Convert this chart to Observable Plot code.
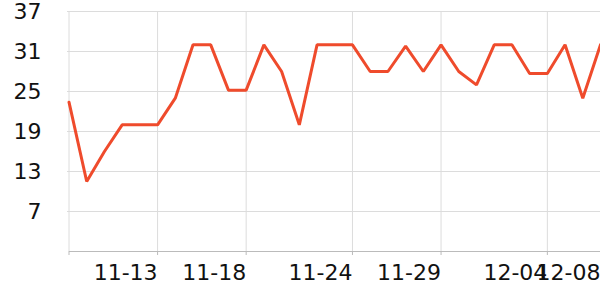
<!DOCTYPE html>
<html>
<head>
<meta charset="utf-8">
<script src="https://cdn.jsdelivr.net/npm/d3@7"></script>
<script src="https://cdn.jsdelivr.net/npm/@observablehq/plot@0.6"></script>
<style>
  html, body { margin: 0; padding: 0; background: #fff; }
</style>
</head>
<body>
<div id="chart"></div>
<script>
const dates = ["11-08","11-09","11-10","11-11","11-12","11-13","11-14","11-15","11-16","11-17",
  "11-18","11-19","11-20","11-21","11-22","11-23","11-24","11-25","11-26","11-27",
  "11-28","11-29","11-30","12-01","12-02","12-03","12-03","12-04","12-05","12-06","12-08"];
const values = [23.4, 11.5, 16, 20, 20, 20, 24, 32, 32, 25.2,
  25.2, 32, 28, 20, 32, 32, 32, 28, 28, 31.8,
  28, 32, 28, 26, 32, 32, 27.7, 27.7, 32, 24, 32];
const tickLabels = ["11-13","11-18","11-24","11-29","12-04","12-08"];
const yTicks = [7, 13, 19, 25, 31, 37];

const data = values.map((v, i) => ({i, date: dates[i], v}));
const xTicks = [0, ...tickLabels.map(t => dates.indexOf(t))];

const chart = Plot.plot({
  width: 600,
  height: 300,
  marginLeft: 69,
  marginRight: 0,
  marginTop: 11,
  marginBottom: 49,
  style: {fontFamily: "DejaVu Sans", fontSize: "22px", background: "#fff", overflow: "visible"},
  x: {domain: [0, dates.length - 1], range: [68.5, 600]},
  y: {domain: [1, 37]},
  marks: [
    Plot.gridY(yTicks, {stroke: "#dcdcdc", strokeOpacity: 1}),
    Plot.gridX(xTicks, {stroke: "#dcdcdc", strokeOpacity: 1}),
    Plot.axisY(yTicks, {tickSize: 2, tickPadding: 26, stroke: "#dcdcdc", fill: "#111", label: null}),
    Plot.ruleY([1], {stroke: "#bbb"}),
    Plot.axisX(xTicks, {tickSize: 4, tickPadding: 9, stroke: "#bbb", fill: "#111", textAnchor: "end",
      tickFormat: i => i === 0 ? "" : dates[i], label: null}),
    Plot.line(data, {x: "i", y: "v", stroke: "#ef4b2c", strokeWidth: 3, strokeLinejoin: "miter"})
  ]
});
document.getElementById("chart").appendChild(chart);
</script>
</body>
</html>
